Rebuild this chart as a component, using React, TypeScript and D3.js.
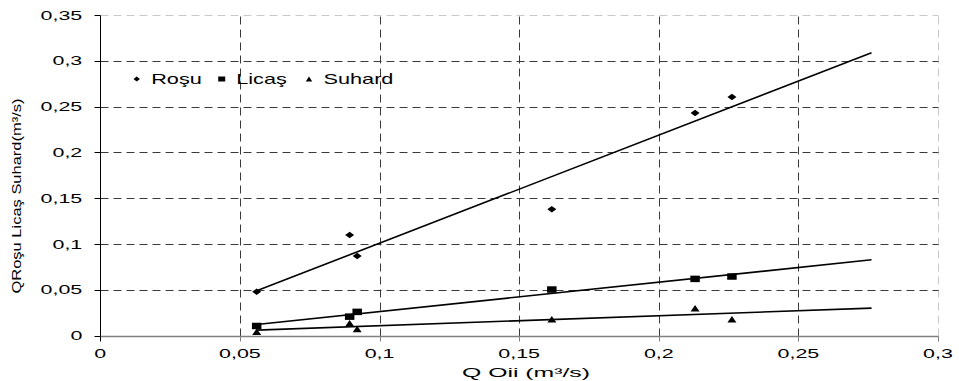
import { useEffect, useRef } from 'react'
import * as d3 from 'd3'

// values
const qOii = [0.056, 0.0893, 0.092, 0.1617, 0.213, 0.2262]
const rosu = [0.048, 0.110, 0.087, 0.138, 0.243, 0.2605]
const licas = [0.0106, 0.0208, 0.026, 0.0504, 0.062, 0.0646]
const suhard = [0.0044, 0.0136, 0.0073, 0.018, 0.030, 0.018]

const seriesNames = ['Roşu', 'Licaş', 'Suhard']
const seriesShapes = ['diamond', 'square', 'triangle']

const xTicks = [0, 0.05, 0.1, 0.15, 0.2, 0.25, 0.3]
const yTicks = [0, 0.05, 0.1, 0.15, 0.2, 0.25, 0.3, 0.35]
const forecast = 0.05

const fmt = (v: number) => String(+v.toFixed(2)).replace('.', ',')

function markerPath(shape: string, w: number, h: number) {
    const a = w / 2, b = h / 2
    if (shape === 'diamond') return `M${-a},0L0,${-b}L${a},0L0,${b}Z`
    if (shape === 'square') return `M${-a},${-b}H${a}V${b}H${-a}Z`
    return `M${-a},${b}L0,${-b}L${a},${b}Z`
}

function Chart({ width = 959, height = 381, marginTop = 15, marginRight = 21, marginBottom = 45.3, marginLeft = 100.3 }) {
    const ref = useRef<SVGSVGElement | null>(null)

    useEffect(() => {
        const svg = d3.select(ref.current)
        svg.selectAll('*').remove()
        svg.attr('width', width).attr('height', height)
            .style('font-family', '"Liberation Sans", Arial, sans-serif')

        const x = d3.scaleLinear().domain([0, 0.3]).range([marginLeft, width - marginRight])
        const y = d3.scaleLinear().domain([0, 0.35]).range([height - marginBottom, marginTop])
        const sx = (v: number) => Math.round(x(v)) + 0.5
        const sy = (v: number) => Math.round(y(v)) + 0.5

        svg.append('rect').attr('width', width).attr('height', height).attr('fill', '#fff')

        // grid
        const grid = svg.append('g').attr('stroke-dasharray', '8,5').attr('stroke-width', 1)
        grid.selectAll('line.v').data(xTicks.slice(1)).join('line')
            .attr('x1', d => sx(d)).attr('x2', d => sx(d))
            .attr('y1', sy(0)).attr('y2', sy(0.35))
            .attr('stroke', d => d >= 0.3 ? '#c8c8c8' : '#3a3a3a')
        grid.selectAll('line.h').data(yTicks.slice(1)).join('line')
            .attr('x1', sx(0)).attr('x2', sx(0.3))
            .attr('y1', d => sy(d)).attr('y2', d => sy(d))
            .attr('stroke', d => d >= 0.35 ? '#c8c8c8' : '#3a3a3a')

        // axes
        svg.append('line').attr('x1', sx(0)).attr('x2', sx(0.3)).attr('y1', sy(0)).attr('y2', sy(0))
            .attr('stroke', '#808080').attr('stroke-width', 1.5)
        svg.append('line').attr('x1', sx(0)).attr('x2', sx(0)).attr('y1', sy(0)).attr('y2', sy(0.35))
            .attr('stroke', '#000').attr('stroke-width', 1)

        const yt = svg.append('g')
        yt.selectAll('line').data(yTicks).join('line')
            .attr('x1', sx(0) - 6).attr('x2', sx(0))
            .attr('y1', d => sy(d)).attr('y2', d => sy(d)).attr('stroke', '#000')
        yt.selectAll('g').data(yTicks).join('g')
            .attr('transform', d => `translate(${x(0) - 18},${y(d)})`)
            .append('text').attr('transform', 'scale(1.65,1)')
            .attr('text-anchor', 'end').attr('dy', '0.35em').attr('font-size', 13)
            .text(d => fmt(d))

        const xt = svg.append('g')
        xt.selectAll('line').data(xTicks).join('line')
            .attr('x1', d => sx(d)).attr('x2', d => sx(d))
            .attr('y1', sy(0)).attr('y2', sy(0) + 5).attr('stroke', d => d === 0 ? '#000' : '#808080')
        xt.selectAll('g').data(xTicks).join('g')
            .attr('transform', d => `translate(${x(d)},${y(0) + 22})`)
            .append('text').attr('transform', 'scale(1.65,1)')
            .attr('text-anchor', 'middle').attr('font-size', 13)
            .text(d => fmt(d))

        // axis titles
        svg.append('text').attr('x', 526).attr('y', 377).attr('text-anchor', 'middle')
            .attr('font-size', 13).attr('textLength', 128).attr('lengthAdjust', 'spacingAndGlyphs')
            .text('Q Oii (m³/s)')
        svg.append('text').attr('transform', `translate(21,196) rotate(-90)`).attr('text-anchor', 'middle')
            .attr('font-size', 12).attr('textLength', 195).attr('lengthAdjust', 'spacingAndGlyphs')
            .text('QRoşu Licaş Suhard(m³/s)')

        // series + linear trend lines
        const all = [rosu, licas, suhard]
        all.forEach((vals, i) => {
            const pts = qOii.map((q, j) => [q, vals[j]] as [number, number])
            const mx = d3.mean(qOii)!, my = d3.mean(vals)!
            const sxy = d3.sum(pts, p => (p[0] - mx) * (p[1] - my))
            const sxx = d3.sum(qOii, q => (q - mx) ** 2)
            const k = sxy / sxx, c = my - k * mx
            const x0 = d3.min(qOii)!, x1 = d3.max(qOii)! + forecast
            svg.append('path')
                .attr('d', d3.line<number>().x(d => x(d)).y(d => y(k * d + c))([x0, x1]))
                .attr('stroke', '#000').attr('stroke-width', 1.6).attr('fill', 'none')

            svg.append('g').selectAll('path').data(pts).join('path')
                .attr('transform', d => `translate(${x(d[0])},${y(d[1])})`)
                .attr('d', markerPath(seriesShapes[i], i === 1 ? 9.5 : 9, 6.5))
                .attr('fill', '#000')
        })

        // legend
        const legX = [136.7, 221.7, 309]
        const lg = svg.append('g')
        seriesNames.forEach((name, i) => {
            lg.append('path').attr('transform', `translate(${legX[i]},79)`)
                .attr('d', markerPath(seriesShapes[i], i === 1 ? 7 : 6.5, 5)).attr('fill', '#000')
            lg.append('g').attr('transform', `translate(${legX[i] + 14.5},84)`)
                .append('text').attr('transform', 'scale(1.55,1)').attr('font-size', 14).text(name)
        })
    }, [])

    return <svg ref={ref}></svg>
}

export default function App() {
    return (
        <div style={{ position: 'absolute', left: 0, top: 0 }}>
            <Chart />
        </div>
    )
}
